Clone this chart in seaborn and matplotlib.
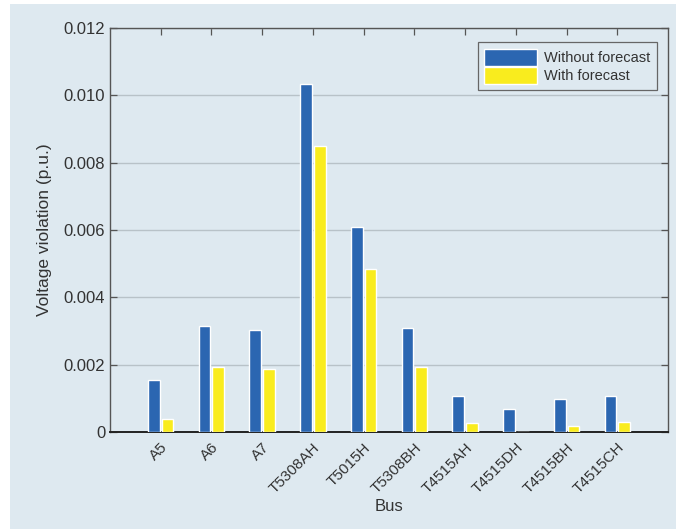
import matplotlib
matplotlib.use("Agg")
import matplotlib.pyplot as plt
import matplotlib.patches as mpatches
import seaborn as sns
import pandas as pd
from matplotlib import font_manager

buses = ["A5", "A6", "A7", "T5308AH", "T5015H", "T5308BH",
         "T4515AH", "T4515DH", "T4515BH", "T4515CH"]
without_forecast = [0.00153, 0.00315, 0.00303, 0.01034, 0.00609, 0.00309,
                    0.00107, 0.00067, 0.00097, 0.00108]
with_forecast = [0.00039, 0.00192, 0.00186, 0.00850, 0.00484, 0.00194,
                 0.00028, 0.0, 0.00019, 0.00031]
series_names = ["Without forecast", "With forecast"]
yticks = [0, 0.002, 0.004, 0.006, 0.008, 0.010, 0.012]
ytick_labels = ["0", "0.002", "0.004", "0.006", "0.008", "0.010", "0.012"]

BG = "#dee9f0"
BLUE = "#2b66b1"
YELLOW = "#f9ec1e"
TXT = "#333333"

sns.set_theme(style="white")
avail = {f.name for f in font_manager.fontManager.ttflist}
fam = "Liberation Sans Narrow" if "Liberation Sans Narrow" in avail else "Liberation Sans"
plt.rcParams["font.family"] = [fam, "DejaVu Sans"]

df = pd.DataFrame({
    "Bus": buses * 2,
    "value": without_forecast + with_forecast,
    "series": [series_names[0]] * len(buses) + [series_names[1]] * len(buses),
})

fig = plt.figure(figsize=(6.76, 5.29), dpi=100)
fig.patch.set_facecolor("white")
bgrect = mpatches.Rectangle((10 / 676, 0), 1, 1 - 4 / 529,
                            transform=fig.transFigure,
                            facecolor=BG, edgecolor="none", zorder=-10)
fig.add_artist(bgrect)
ax = fig.add_axes([110 / 676, 1 - 432 / 529, 558 / 676, 404 / 529])
ax.set_zorder(5)
ax.set_facecolor(BG)

sns.barplot(data=df, x="Bus", y="value", hue="series", order=buses,
            hue_order=series_names, palette=[BLUE, YELLOW], width=0.54,
            gap=0.14, ax=ax, saturation=1, errorbar=None, zorder=3)

ax.set_xlim(-1, len(buses))
ax.set_ylim(0, 0.012)
ax.set_yticks(yticks)
ax.set_yticklabels(ytick_labels)
ax.yaxis.grid(True, color="#b8c2c8", linewidth=1.0, zorder=0)
ax.xaxis.grid(False)
ax.set_axisbelow(True)

for s in ax.spines.values():
    s.set_visible(True)
    s.set_color("#555555")
    s.set_linewidth(1.0)
ax.spines["bottom"].set_color("#222222")
ax.spines["bottom"].set_linewidth(1.4)

ax.tick_params(axis="both", direction="in", length=5, width=0.9, color="#555555",
               top=True, right=True, bottom=False, left=True,
               labelsize=12, labelcolor=TXT)
ax.tick_params(axis="x", pad=6, labelsize=11)
plt.setp(ax.get_xticklabels(), rotation=45, ha="right", rotation_mode="anchor")

ax.set_xlabel("Bus", fontsize=12, color=TXT, labelpad=2)
ax.set_ylabel("Voltage violation (p.u.)", fontsize=12.5, color=TXT, labelpad=8)

leg = ax.legend(loc="upper right", bbox_to_anchor=(0.980, 0.965), borderaxespad=0,
                fontsize=10.5, frameon=True, fancybox=False, edgecolor="#666666",
                facecolor=BG, framealpha=1, handlelength=3.6, handleheight=1.4,
                handletextpad=0.5, borderpad=0.45, labelspacing=0.1)
leg.get_frame().set_linewidth(0.9)
for t in leg.get_texts():
    t.set_color(TXT)

fig.savefig("out.png", dpi=100, facecolor=fig.get_facecolor())
